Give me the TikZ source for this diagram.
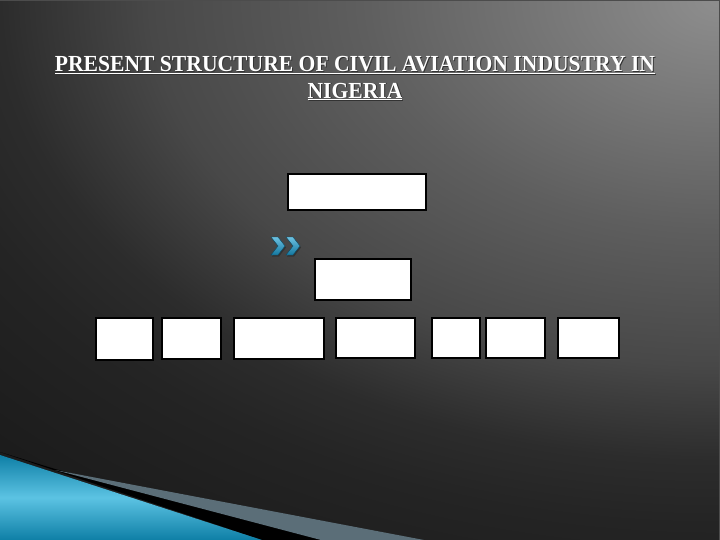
\documentclass[tikz,border=0pt]{standalone}
\usepackage{fontspec}
\setmainfont{Liberation Serif}
\usetikzlibrary{shadings}
\definecolor{bgA}{HTML}{8E8E8E}
\definecolor{bgB}{HTML}{5E5E5E}
\definecolor{bgC}{HTML}{484848}
\definecolor{bgD}{HTML}{2C2C2C}
\definecolor{bgE}{HTML}{242424}
\definecolor{bgF}{HTML}{1C1C1C}
\definecolor{bluedark}{HTML}{0E7FA6}
\definecolor{bluelight}{HTML}{5CC3E3}
\definecolor{stripegray}{HTML}{5B6E78}
\definecolor{chevblue}{HTML}{2EA6D4}
\definecolor{chevdark}{HTML}{1478A0}
\pgfdeclareradialshading{bgrad}{\pgfpoint{0bp}{0bp}}{color(0bp)=(bgA); color(9bp)=(bgB); color(14.25bp)=(bgC); color(18bp)=(bgD); color(20.5bp)=(bgE); color(25bp)=(bgF); color(50bp)=(bgF)}
\tikzset{
  box/.style={draw=black, line width=1.4pt, fill=white, inner sep=0pt},
  titletext/.style={font=\bfseries\fontsize{23}{28}\selectfont, align=center, inner sep=0pt},
  chev/.style={top color=chevblue!70!white, bottom color=chevdark, draw=chevdark!60!black, line width=0.4pt}
}
\newcommand{\titlebody}{\scalebox{0.94}[1]{\underline{PRESENT STRUCTURE OF CIVIL AVIATION INDUSTRY IN}}\\[-1pt]\scalebox{0.94}[1]{\underline{NIGERIA}}}
\begin{document}
\begin{tikzpicture}[x=1pt,y=-1pt]
\useasboundingbox (0,0) rectangle (720,540);
% background
\begin{scope}
\clip (0,0) rectangle (720,540);
\shade[shading=bgrad] (-280,-640) rectangle (1720,640);
\end{scope}
\draw[black!70, line width=1pt] (0,0.5) -- (720,0.5);
\draw[black!70, line width=1pt] (719.5,0) -- (719.5,540);
% bottom-left decoration
\fill[black] (0,452) -- (55,469) -- (323,540) -- (262,540) -- cycle;
\fill[stripegray] (55,470) -- (424,540) -- (321,540) -- cycle;
\shade[left color=bluedark, right color=bluedark, middle color=bluelight, shading angle=0]
  (0,455) -- (262,540) -- (0,540) -- cycle;
% title
\node[titletext, text=black!80] at (356,79) {\titlebody};
\node[titletext, text=white] (title) at (355,78) {\titlebody};
% boxes
\node[box, minimum width=138pt, minimum height=36pt] (top) at (357,192) {};
\node[box, minimum width=96pt, minimum height=41pt] (mid) at (363,279.5) {};
\node[box, minimum width=57pt, minimum height=42pt] (b1) at (124.5,339) {};
\node[box, minimum width=59pt, minimum height=41pt] (b2) at (191.5,338.5) {};
\node[box, minimum width=90pt, minimum height=41pt] (b3) at (279,338.5) {};
\node[box, minimum width=79pt, minimum height=40pt] (b4) at (375.5,338) {};
\node[box, minimum width=48pt, minimum height=40pt] (b5) at (456,338) {};
\node[box, minimum width=59pt, minimum height=40pt] (b6) at (515.5,338) {};
\node[box, minimum width=61pt, minimum height=40pt] (b7) at (588.5,338) {};
% chevrons
\fill[black!80] (272,238.5) -- (279,238.5) -- (286,247.5) -- (279,256.5) -- (272,256.5) -- (279,247.5) -- cycle;
\fill[black!80] (287,238.5) -- (294,238.5) -- (301,247.5) -- (294,256.5) -- (287,256.5) -- (294,247.5) -- cycle;
\shade[chev] (271,237) -- (278,237) -- (285,246) -- (278,255) -- (271,255) -- (278,246) -- cycle;
\shade[chev] (286,237) -- (293,237) -- (300,246) -- (293,255) -- (286,255) -- (293,246) -- cycle;
\end{tikzpicture}
\end{document}
